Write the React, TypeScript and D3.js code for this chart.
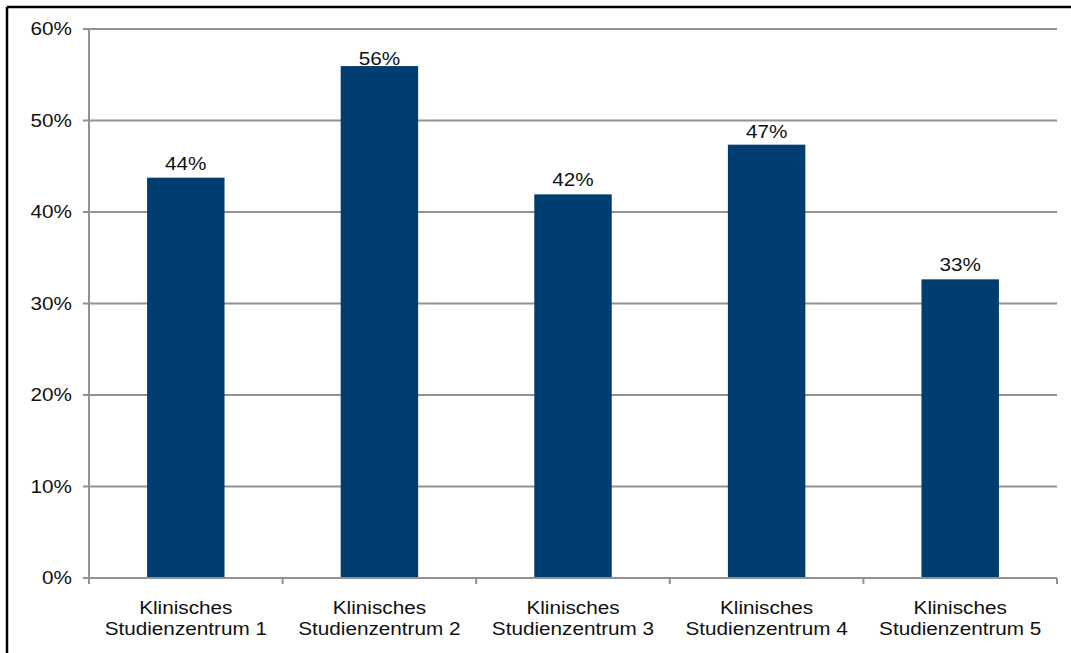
import React from "react";
import * as d3 from "d3";

const categories = [
  ["Klinisches", "Studienzentrum 1"],
  ["Klinisches", "Studienzentrum 2"],
  ["Klinisches", "Studienzentrum 3"],
  ["Klinisches", "Studienzentrum 4"],
  ["Klinisches", "Studienzentrum 5"],
];
const values = [0.4375, 0.5595, 0.4193, 0.4736, 0.3264];
const yTicks = [0, 0.1, 0.2, 0.3, 0.4, 0.5, 0.6];

const W = 1071;
const H = 653;
const left = 89;
const right = 1057;
const top = 29;
const bottom = 578;
const FS = 18.5;
const SX = 1.12;
// label gap above bar (px); the tallest label sits closer to its bar, as in the reference
const labelGaps = [8, 1.5, 8, 6.5, 8];

function T({ x, y, anchor, children, dy }: any) {
  return (
    <text
      transform={`translate(${x},${y}) scale(${SX},1)`}
      textAnchor={anchor}
      dy={dy}
      fontSize={FS}
      fill="#111"
    >
      {children}
    </text>
  );
}

export default function App() {
  const x = d3
    .scaleBand<number>()
    .domain(d3.range(categories.length))
    .range([left, right])
    .paddingInner(0.6)
    .paddingOuter(0.3);
  const band = d3.scaleBand<number>().domain(d3.range(categories.length)).range([left, right]);
  const y = d3.scaleLinear().domain([0, 0.6]).range([bottom, top]);
  const fmt = d3.format(".0%");
  const font = "Liberation Sans, Arial, sans-serif";
  const grid = "#929292";
  const boundaries = d3.range(categories.length + 1).map((i) =>
    i < categories.length ? (band(i) as number) : right
  );

  return (
    <svg
      width={W}
      height={H}
      style={{ position: "absolute", left: 0, top: 0, background: "#fff" }}
      fontFamily={font}
    >
      <rect x={0} y={0} width={W} height={H} fill="#fff" />
      {/* frame */}
      <line x1={7} y1={7} x2={W} y2={7} stroke="#000" strokeWidth={2.5} />
      <line x1={7} y1={7} x2={7} y2={H} stroke="#000" strokeWidth={2.5} />
      {/* gridlines */}
      {yTicks.map((t) => (
        <g key={t}>
          {t > 0 && (
            <line x1={left} x2={right} y1={y(t)} y2={y(t)} stroke={grid} strokeWidth={2} />
          )}
          <line x1={left - 6} x2={left} y1={y(t)} y2={y(t)} stroke={grid} strokeWidth={2} />
          <T x={72} y={y(t)} dy="0.35em" anchor="end">
            {fmt(t)}
          </T>
        </g>
      ))}
      {/* bars */}
      {values.map((v, i) => (
        <g key={i}>
          <rect
            x={x(i)}
            y={y(v)}
            width={x.bandwidth()}
            height={y(0) - y(v)}
            fill="#003D70"
          />
          <T x={(x(i) as number) + x.bandwidth() / 2} y={y(v) - labelGaps[i]} anchor="middle">
            {fmt(Math.round(v * 100) / 100)}
          </T>
        </g>
      ))}
      {/* axes */}
      <line x1={left} x2={left} y1={top} y2={bottom} stroke={grid} strokeWidth={2} />
      <line x1={left} x2={right} y1={bottom} y2={bottom} stroke={grid} strokeWidth={2} />
      {boundaries.map((bx, i) => (
        <line key={i} x1={bx} x2={bx} y1={bottom} y2={bottom + 6} stroke={grid} strokeWidth={2} />
      ))}
      {categories.map((lines, i) =>
        lines.map((l, j) => (
          <T
            key={`${i}-${j}`}
            x={(band(i) as number) + band.bandwidth() / 2}
            y={614 + j * 20.5}
            anchor="middle"
          >
            {l}
          </T>
        ))
      )}
    </svg>
  );
}
